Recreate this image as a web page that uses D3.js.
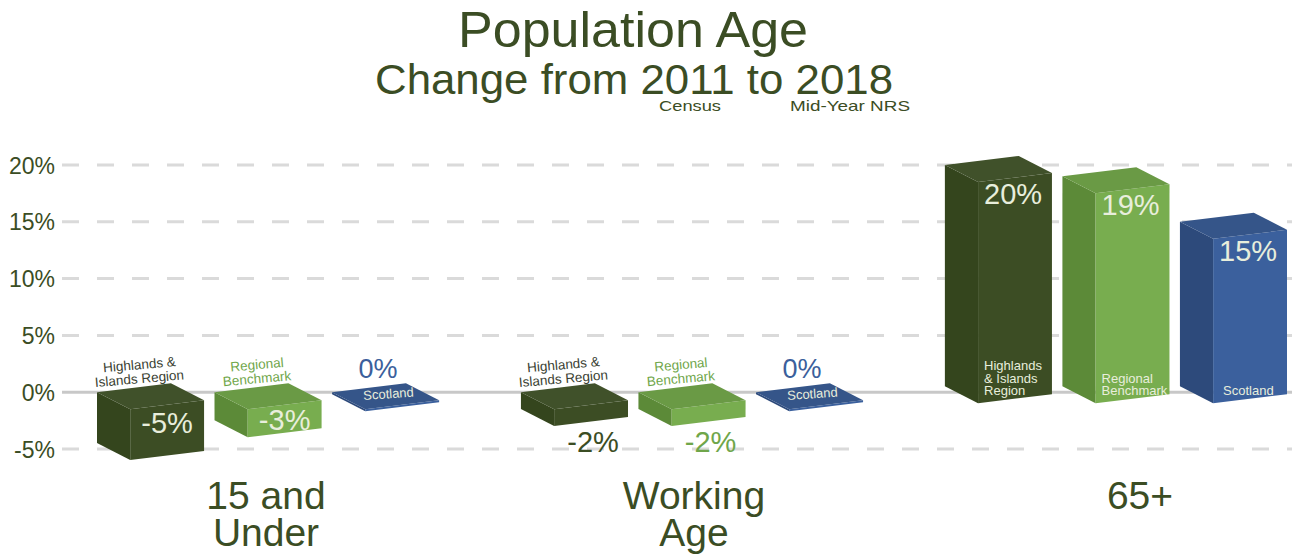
<!DOCTYPE html>
<html>
<head>
<meta charset="utf-8">
<script src="https://cdn.jsdelivr.net/npm/d3@7"></script>
<style>
  html, body { margin: 0; padding: 0; background: #ffffff; }
  svg { display: block; }
  text { font-family: "Liberation Sans", Arial, sans-serif; }
</style>
</head>
<body>
<svg id="chart" width="1292" height="555"></svg>
<script>
// ---- data ----
const categories = ["15 and Under", "Working Age", "65+"];
const categoryLines = [["15 and", "Under"], ["Working", "Age"], ["65+"]];
const series = ["Highlands & Islands Region", "Regional Benchmark", "Scotland"];
const highlands = [-5, -2, 20];
const regional = [-3, -2, 19];
const scotland = [0, 0, 15];
const yTicks = [-5, 0, 5, 10, 15, 20];
const titleText = "Population Age";
const subtitleText = "Change from 2011 to 2018";
const noteCensus = "Census";
const noteNRS = "Mid-Year NRS";

// label lines for series (outside short bars / inside tall bars)
const seriesLinesTop = [["Highlands &", "Islands Region"], ["Regional", "Benchmark"], ["Scotland"]];
const seriesLinesInside = [["Highlands", "& Islands", "Region"], ["Regional", "Benchmark"], ["Scotland"]];

// ---- style ----
const palette = {
  "Highlands & Islands Region": { top: "#40512a", left: "#34451d", front: "#3c4d24", label: "#3d4d26" },
  "Regional Benchmark": { top: "#6a9a45", left: "#5c8a38", front: "#78ad4f", label: "#6fa64a" },
  "Scotland": { top: "#355589", left: "#2d4a7b", front: "#3b609d", label: "#3b5f9c" }
};
const textGreen = "#3b4d24";

const svg = d3.select("#chart");

const y = d3.scaleLinear().domain([-5, 20]).range([449, 165]);
const x0 = d3.scaleBand().domain(categories).range([97, 1287]).paddingInner(0.193).paddingOuter(0);
const x1 = d3.scaleBand().domain(series).range([0, x0.bandwidth()]).paddingInner(0.089);
const labelX = d3.scaleOrdinal().domain(categories).range([266, 694, 1140]);

// ---- title ----
svg.append("text").attr("x", 633).attr("y", 47).attr("text-anchor", "middle")
  .attr("font-size", 50).attr("fill", textGreen)
  .attr("textLength", 350).attr("lengthAdjust", "spacingAndGlyphs").text(titleText);
svg.append("text").attr("x", 634).attr("y", 94).attr("text-anchor", "middle")
  .attr("font-size", 43).attr("fill", textGreen)
  .attr("textLength", 518).attr("lengthAdjust", "spacingAndGlyphs").text(subtitleText);
svg.append("text").attr("x", 690).attr("y", 111).attr("text-anchor", "middle")
  .attr("font-size", 15).attr("fill", textGreen)
  .attr("textLength", 62).attr("lengthAdjust", "spacingAndGlyphs").text(noteCensus);
svg.append("text").attr("x", 850).attr("y", 111).attr("text-anchor", "middle")
  .attr("font-size", 15).attr("fill", textGreen)
  .attr("textLength", 120).attr("lengthAdjust", "spacingAndGlyphs").text(noteNRS);

// ---- gridlines & y axis ----
const gridG = svg.append("g");
yTicks.forEach(t => {
  gridG.append("line")
    .attr("x1", 62).attr("x2", 1292)
    .attr("y1", y(t)).attr("y2", y(t))
    .attr("stroke", t === 0 ? "#c8c8c8" : "#dadada")
    .attr("stroke-width", 3)
    .attr("stroke-dasharray", t === 0 ? null : "17 18");
});
const yAxis = d3.axisLeft(y).tickValues(yTicks).tickSize(0).tickPadding(0).tickFormat(d => d + "%");
const axG = svg.append("g").attr("transform", "translate(55,0)").call(yAxis);
axG.select(".domain").remove();
axG.selectAll("text").attr("font-size", 23).attr("fill", textGreen)
  .attr("font-family", "'Liberation Sans', Arial, sans-serif").attr("dy", "0.35em");

// ---- bars ----
const rows = [];
categories.forEach((c, i) => {
  rows.push({ cat: c, ci: i, s: series[0], si: 0, v: highlands[i] });
  rows.push({ cat: c, ci: i, s: series[1], si: 1, v: regional[i] });
  rows.push({ cat: c, ci: i, s: series[2], si: 2, v: scotland[i] });
});

const bw = x1.bandwidth();
const fdx = bw * 0.31, fdy = 17;   // front corner offset
const rdy = 8;                      // right edge offset
const bdx = bw - fdx, bdy = rdy - fdy; // back corner offset

const poly = pts => "M" + pts.map(p => p.join(",")).join("L") + "Z";

const barsG = svg.append("g");
rows.forEach(d => {
  const L = x0(d.cat) + x1(d.s);
  const yT = y(Math.max(d.v, 0));
  let yB = y(Math.min(d.v, 0)) - 6;
  if (yB < yT + 2) yB = yT + 2;
  const col = palette[d.s];
  const g = barsG.append("g");
  g.append("path").attr("d", poly([[L, yT], [L + fdx, yT + fdy], [L + fdx, yB + fdy], [L, yB]])).attr("fill", col.left);
  g.append("path").attr("d", poly([[L + fdx, yT + fdy], [L + bw, yT + rdy], [L + bw, yB + rdy], [L + fdx, yB + fdy]])).attr("fill", col.front);
  g.append("path").attr("d", poly([[L, yT], [L + bdx, yT + bdy], [L + bw, yT + rdy], [L + fdx, yT + fdy]])).attr("fill", col.top);
  d.L = L; d.yT = yT; d.yB = yB;
});

// ---- value labels & series labels ----
const labG = svg.append("g");
const lightText = "#e8eedc";
rows.forEach(d => {
  const L = d.L, col = palette[d.s];
  const fmt = d.v + "%";
  const frontMid = L + fdx + (bw - fdx) / 2;
  if (d.v >= 10) {
    // tall bar: value near top of front face, series name near bottom
    labG.append("text").attr("x", L + fdx + 6).attr("y", d.yT + fdy + 22)
      .attr("font-size", 29).attr("fill", lightText).text(fmt);
    const lines = seriesLinesInside[d.si];
    const lineH = 12.5;
    const baseY = y(0) + 3 - (lines.length - 1) * lineH;
    lines.forEach((ln, k) => {
      labG.append("text").attr("x", L + fdx + 6 + (d.si === 2 ? 4 : 0)).attr("y", baseY + k * lineH)
        .attr("font-size", 13).attr("fill", lightText).text(ln);
    });
  } else if (d.v === 0) {
    labG.append("text").attr("x", L + bw * 0.43).attr("y", y(0) - 14).attr("text-anchor", "middle")
      .attr("font-size", 27).attr("fill", col.label).text(fmt);
    labG.append("text").attr("x", 0).attr("y", 0).attr("text-anchor", "middle")
      .attr("transform", `translate(${L + bw * 0.53},${y(0) + 6}) rotate(-4)`)
      .attr("font-size", 13).attr("fill", lightText).text(seriesLinesTop[d.si][0]);
  } else {
    const lines = seriesLinesTop[d.si];
    const cx = L + bw * 0.4;
    lines.forEach((ln, k) => {
      labG.append("text").attr("text-anchor", "middle")
        .attr("transform", `translate(${cx},${y(0) - 23 + k * 14}) rotate(-5)`)
        .attr("font-size", 13.5).attr("fill", d.si === 0 ? "#3a3f33" : col.label).text(ln);
    });
    if (d.v <= -3) {
      labG.append("text").attr("x", frontMid).attr("y", Math.max(y(0) + 38, d.yB - 10)).attr("text-anchor", "middle")
        .attr("font-size", 29).attr("fill", lightText).text(fmt);
    } else {
      labG.append("text").attr("x", frontMid + 2).attr("y", y(d.v) + 37).attr("text-anchor", "middle")
        .attr("font-size", 29).attr("fill", d.si === 0 ? textGreen : col.label).text(fmt);
    }
  }
});

// ---- category labels ----
const catG = svg.append("g");
categories.forEach((c, i) => {
  categoryLines[i].forEach((ln, k) => {
    catG.append("text").attr("x", labelX(c)).attr("y", 509 + k * 37)
      .attr("text-anchor", "middle").attr("font-size", 39).attr("fill", textGreen).text(ln);
  });
});
</script>
</body>
</html>
